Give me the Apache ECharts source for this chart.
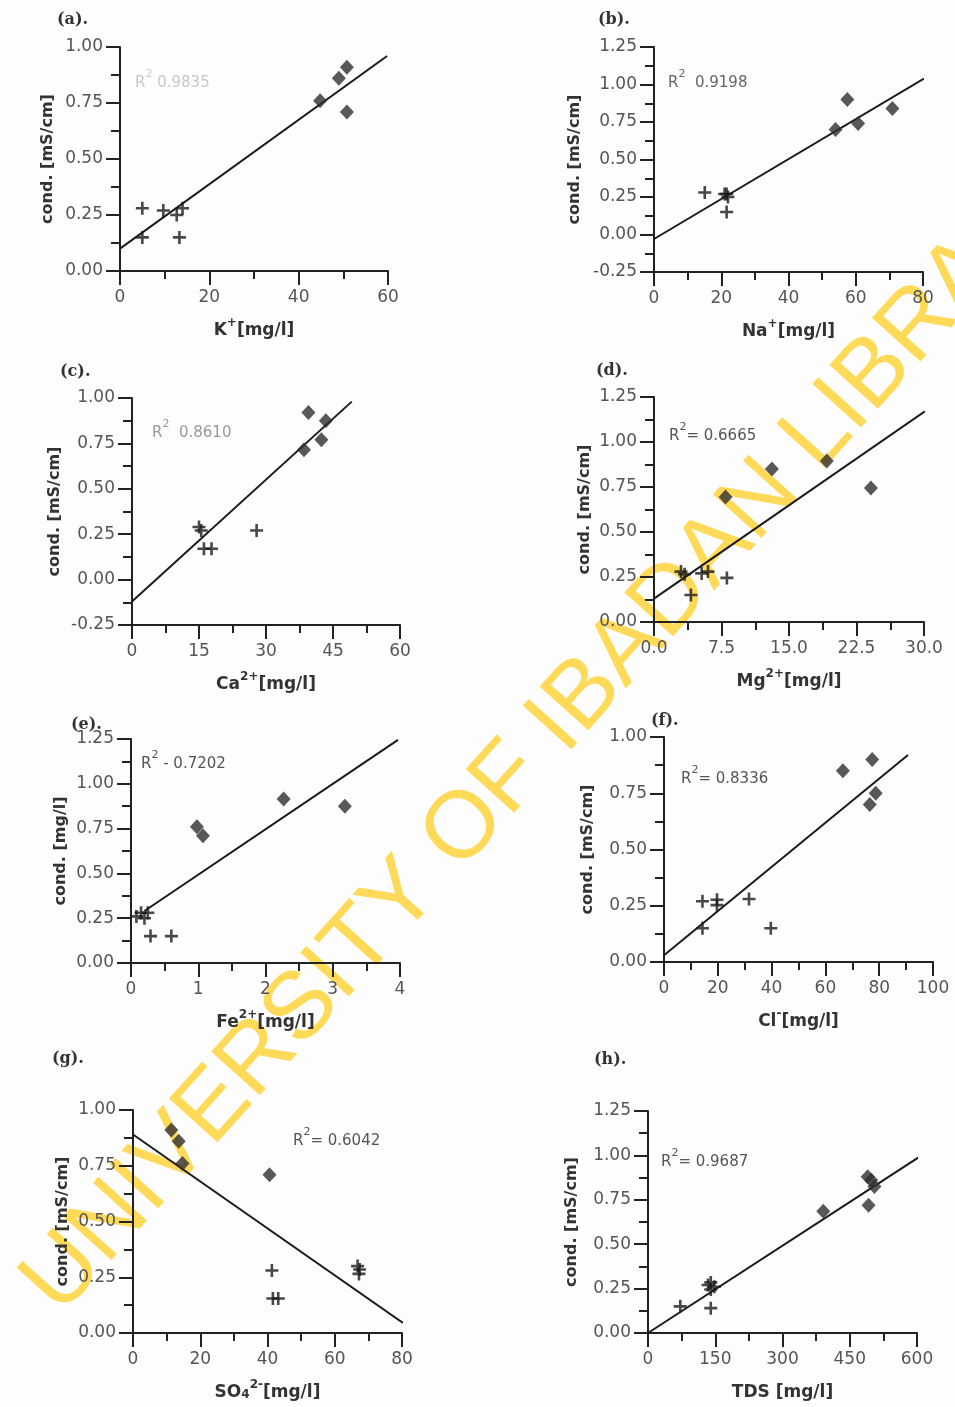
<!DOCTYPE html>
<html>
<head>
<meta charset="utf-8">
<script src="https://cdn.jsdelivr.net/npm/echarts@6/dist/echarts.min.js"></script>
<style>
  html, body { margin: 0; padding: 0; background: #fdfdfd; }
  #main { width: 955px; height: 1407px; }
</style>
</head>
<body>
<div id="main"></div>
<script>
// (a) K+
var crossA = [[5, 0.28], [5, 0.15], [9.7, 0.27], [12.7, 0.25], [14, 0.28], [13.3, 0.15]];
var diamondA = [[44.8, 0.76], [49, 0.86], [50.8, 0.91], [50.8, 0.71]];
var fitA = [[0, 0.10], [59.8, 0.96]];
// (b) Na+
var crossB = [[15.1, 0.28], [21, 0.27], [22, 0.25], [21.6, 0.27], [21.6, 0.15]];
var diamondB = [[54, 0.70], [57.5, 0.90], [60.7, 0.74], [70.9, 0.84]];
var fitB = [[0, -0.03], [80.3, 1.04]];
// (c) Ca2+
var crossC = [[15, 0.29], [15.5, 0.27], [16.1, 0.17], [17.8, 0.17], [27.9, 0.27]];
var diamondC = [[39.5, 0.92], [38.5, 0.715], [42.4, 0.77], [43.4, 0.875]];
var fitC = [[0, -0.12], [49.2, 0.98]];
// (d) Mg2+
var crossD = [[3.0, 0.28], [3.4, 0.265], [4.1, 0.15], [5.3, 0.27], [6.0, 0.28], [8.1, 0.245]];
var diamondD = [[7.95, 0.695], [13.1, 0.85], [19.2, 0.895], [24.1, 0.745]];
var fitD = [[0, 0.13], [30.1, 1.17]];
// (e) Fe2+
var crossE = [[0.08, 0.26], [0.15, 0.28], [0.2, 0.25], [0.25, 0.28], [0.29, 0.15], [0.6, 0.15]];
var diamondE = [[0.98, 0.76], [1.07, 0.71], [2.27, 0.915], [3.18, 0.875]];
var fitE = [[0.2, 0.29], [3.97, 1.245]];
// (f) Cl-
var crossF = [[14.3, 0.27], [14.3, 0.15], [19.7, 0.277], [19.7, 0.253], [31.6, 0.28], [39.7, 0.15]];
var diamondF = [[66.5, 0.85], [77.4, 0.90], [76.5, 0.70], [78.7, 0.75]];
var fitF = [[0, 0.03], [90.7, 0.92]];
// (g) SO4 2-
var crossG = [[41.3, 0.28], [41.6, 0.155], [43.2, 0.155], [66.8, 0.30], [67.4, 0.285], [67.2, 0.265]];
var diamondG = [[11.4, 0.91], [13.6, 0.86], [14.7, 0.76], [40.6, 0.71]];
var fitG = [[0, 0.89], [80.3, 0.045]];
// (h) TDS
var crossH = [[72, 0.15], [134, 0.27], [140, 0.285], [148, 0.26], [140, 0.245], [140, 0.14]];
var diamondH = [[391, 0.685], [490, 0.88], [498, 0.86], [505, 0.825], [492, 0.72]];
var fitH = [[0, 0], [606, 0.993]];

var r2Labels = ['0.9835', '0.9198', '0.8610', '0.6665', '0.7202', '0.8336', '0.6042', '0.9687'];

var panels = [
  {tag: '(a).', tagPos: [52, 7], grid: [120, 388, 47, 271], x: [0, 60, 20], y: [0, 1, 0.25], xd: 0,
   xname: '{b|K}{s|+}{b|[mg/l]}', yname: 'cond. [mS/cm]', ygap: 64, r2: [130, 64], r2c: '#c8c8c8', r2sep: ' ',
   cross: crossA, diamond: diamondA, fit: fitA},
  {tag: '(b).', tagPos: [593, 7], grid: [654, 923, 47, 272], x: [0, 80, 20], y: [-0.25, 1.25, 0.25], xd: 0,
   xname: '{b|Na}{s|+}{b|[mg/l]}', yname: 'cond. [mS/cm]', ygap: 71, r2: [663, 64], r2c: '#666', r2sep: '  ',
   cross: crossB, diamond: diamondB, fit: fitB},
  {tag: '(c).', tagPos: [55, 359], grid: [132, 400, 398, 625], x: [0, 60, 15], y: [-0.25, 1, 0.25], xd: 0,
   xname: '{b|Ca}{s|2+}{b|[mg/l]}', yname: 'cond. [mS/cm]', ygap: 69, r2: [147, 414], r2c: '#999', r2sep: '  ',
   cross: crossC, diamond: diamondC, fit: fitC},
  {tag: '(d).', tagPos: [591, 358], grid: [654, 924, 397, 622], x: [0, 30, 7.5], y: [0, 1.25, 0.25], xd: 1,
   xname: '{b|Mg}{s|2+}{b|[mg/l]}', yname: 'cond. [mS/cm]', ygap: 61, r2: [664, 417], r2c: '#555', r2sep: '= ',
   cross: crossD, diamond: diamondD, fit: fitD},
  {tag: '(e).', tagPos: [66, 712], grid: [131, 400, 739, 963], x: [0, 4, 1], y: [0, 1.25, 0.25], xd: 0,
   xname: '{b|Fe}{s|2+}{b|[mg/l]}', yname: 'cond. [mg/l]', ygap: 62, r2: [136, 745], r2c: '#555', r2sep: ' - ',
   cross: crossE, diamond: diamondE, fit: fitE},
  {tag: '(f).', tagPos: [646, 708], grid: [664, 933, 737, 962], x: [0, 100, 20], y: [0, 1, 0.25], xd: 0,
   xname: '{b|Cl}{s|-}{b|[mg/l]}', yname: 'cond. [mS/cm]', ygap: 68, r2: [676, 760], r2c: '#555', r2sep: '= ',
   cross: crossF, diamond: diamondF, fit: fitF},
  {tag: '(g).', tagPos: [47, 1046], grid: [133, 402, 1110, 1333], x: [0, 80, 20], y: [0, 1, 0.25], xd: 0,
   xname: '{b|SO}{u|4}{s|2-}{b|[mg/l]}', yname: 'cond. [mS/cm]', ygap: 62, r2: [288, 1122], r2c: '#555', r2sep: '= ',
   cross: crossG, diamond: diamondG, fit: fitG},
  {tag: '(h).', tagPos: [589, 1047], grid: [648, 917, 1111, 1333], x: [0, 600, 150], y: [0, 1.25, 0.25], xd: 0,
   xname: '{b|TDS [mg/l]}', yname: 'cond. [mS/cm]', ygap: 68, r2: [656, 1143], r2c: '#555', r2sep: '= ',
   cross: crossH, diamond: diamondH, fit: fitH}
];

var crossPath = 'path://M4,0H6V4H10V6H6V10H4V6H0V4H4Z';
var tickFont = 'DejaVu Sans';
var nameRich = {
  b: {fontSize: 17, fontWeight: 'bold', fontFamily: 'DejaVu Sans', color: '#333', verticalAlign: 'bottom', lineHeight: 22},
  s: {fontSize: 12, fontWeight: 'bold', fontFamily: 'DejaVu Sans', color: '#333', verticalAlign: 'top', lineHeight: 12},
  u: {fontSize: 12, fontWeight: 'bold', fontFamily: 'DejaVu Sans', color: '#333', verticalAlign: 'bottom', lineHeight: 8}
};

var grids = [], xAxes = [], yAxes = [], series = [], titles = [];

panels.forEach(function (p, i) {
  grids.push({left: p.grid[0], width: p.grid[1] - p.grid[0], top: p.grid[2], height: p.grid[3] - p.grid[2]});
  xAxes.push({
    gridIndex: i, type: 'value', min: p.x[0], max: p.x[1], interval: p.x[2],
    name: p.xname, nameLocation: 'middle', nameGap: 46,
    nameTextStyle: {fontSize: 17, fontWeight: 'bold', fontFamily: 'DejaVu Sans', color: '#333', rich: nameRich},
    axisLine: {onZero: false, lineStyle: {color: '#222', width: 2}},
    axisTick: {length: 14, lineStyle: {color: '#222', width: 2}},
    minorTick: {show: true, splitNumber: 2, length: 8, lineStyle: {color: '#222', width: 2}},
    splitLine: {show: false},
    axisLabel: {margin: 18, fontSize: 17, fontFamily: tickFont, color: '#555',
      formatter: function (v) { return v.toFixed(p.xd); }}
  });
  yAxes.push({
    gridIndex: i, type: 'value', min: p.y[0], max: p.y[1], interval: p.y[2],
    name: p.yname, nameLocation: 'middle', nameGap: p.ygap,
    nameTextStyle: {fontSize: 16, fontWeight: 'bold', fontFamily: 'DejaVu Sans', color: '#333'},
    axisLine: {onZero: false, lineStyle: {color: '#222', width: 2}},
    axisTick: {length: 14, lineStyle: {color: '#222', width: 2}},
    minorTick: {show: true, splitNumber: 2, length: 9, lineStyle: {color: '#222', width: 2}},
    splitLine: {show: false},
    axisLabel: {margin: 17, fontSize: 17, fontFamily: tickFont, color: '#555',
      formatter: function (v) { return v.toFixed(2); }}
  });
  series.push({
    type: 'line', xAxisIndex: i, yAxisIndex: i, data: p.fit, symbol: 'none',
    lineStyle: {color: '#1a1a1a', width: 2}, z: 3
  });
  series.push({
    type: 'scatter', xAxisIndex: i, yAxisIndex: i, data: p.cross,
    symbol: crossPath, symbolSize: 13, itemStyle: {color: '#1a1a1a'}, z: 4
  });
  series.push({
    type: 'scatter', xAxisIndex: i, yAxisIndex: i, data: p.diamond,
    symbol: 'diamond', symbolSize: [14, 15], itemStyle: {color: '#2e2e2e'}, z: 4
  });
  titles.push({
    text: p.tag, left: p.tagPos[0], top: p.tagPos[1],
    textStyle: {fontFamily: 'DejaVu Serif', fontWeight: 'bold', fontSize: 16, color: '#333'}
  });
  titles.push({
    text: '{r|R}{s|2}{r|' + p.r2sep + r2Labels[i] + '}', left: p.r2[0], top: p.r2[1],
    textStyle: {
      fontWeight: 'normal', fontSize: 15,
      rich: {
        r: {fontSize: 15, fontWeight: 'normal', fontFamily: 'DejaVu Sans', color: p.r2c, verticalAlign: 'bottom', lineHeight: 22},
        s: {fontSize: 11, fontWeight: 'normal', fontFamily: 'DejaVu Sans', color: p.r2c, verticalAlign: 'top', lineHeight: 11}
      }
    }
  });
});

var option = {
  backgroundColor: '#fdfdfd',
  animation: false,
  title: titles,
  grid: grids,
  xAxis: xAxes,
  yAxis: yAxes,
  series: series,
  graphic: [{
    type: 'text', z: -10, silent: true,
    x: 556, y: 727, rotation: 48 * Math.PI / 180,
    style: {
      text: 'UNIVERSITY OF IBADAN LIBRARY',
      fontSize: 95, fontFamily: 'Liberation Sans',
      fill: 'rgba(255, 212, 60, 0.85)',
      align: 'center', verticalAlign: 'middle'
    }
  }]
};

var chart = echarts.init(document.getElementById('main'));
chart.setOption(option);
window.addEventListener('resize', function () {
  chart.resize();
});
</script>
</body>
</html>
